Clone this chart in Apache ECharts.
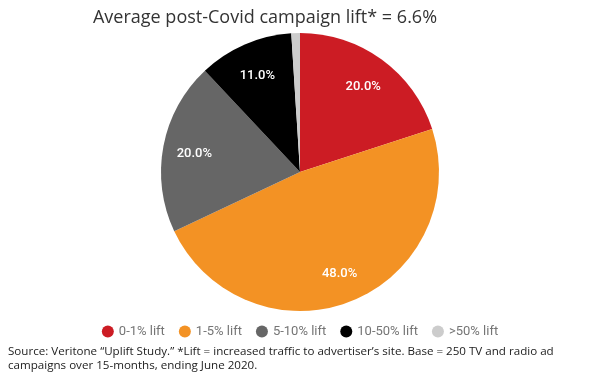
<!DOCTYPE html>
<html>
<head>
<meta charset="utf-8">
<script src="https://cdn.jsdelivr.net/npm/echarts@6/dist/echarts.min.js"></script>
<style>
  html, body { margin: 0; padding: 0; background: #fff; }
  #chart { width: 600px; height: 375px; }
</style>
</head>
<body>
<div id="chart"></div>
<script>
// lift buckets and share of campaigns (%)
const categories = ['0-1% lift', '1-5% lift', '5-10% lift', '10-50% lift', '>50% lift'];
const shares = [20, 48, 20, 11, 1];
const colors = ['#cc1c24', '#f39224', '#666666', '#000000', '#cccccc'];

const titleText = 'Average post-Covid campaign lift* = 6.6%';
const sourceText = 'Source: Veritone \u201cUplift Study.\u201d *Lift = increased traffic to advertiser\u2019s site. Base = 250 TV and radio ad\ncampaigns over 15-months, ending June 2020.';

const pieData = categories.map((name, i) => ({
  name: name,
  value: shares[i],
  itemStyle: { color: colors[i] }
}));

let myChart = echarts.init(document.getElementById('chart'));

myChart.setOption({
  animation: false,
  title: [{
    text: titleText,
    left: 260,
    textAlign: 'center',
    top: 4,
    textStyle: {
      fontFamily: 'Open Sans',
      fontSize: 18,
      fontWeight: 'normal',
      color: '#333'
    }
  }, {
    text: sourceText,
    left: 3,
    top: 340,
    textStyle: {
      fontFamily: 'Open Sans',
      fontSize: 11.6,
      fontWeight: 'normal',
      lineHeight: 14,
      color: '#222'
    }
  }],
  legend: {
    data: categories,
    left: 'center',
    top: 320,
    icon: 'circle',
    itemWidth: 12,
    itemHeight: 12,
    itemGap: 14,
    textStyle: {
      fontFamily: 'Roboto',
      fontSize: 13,
      color: '#757575'
    }
  },
  series: [{
    // the visible pie
    type: 'pie',
    center: [300, 172],
    radius: [0, 139],
    startAngle: 90,
    silent: true,
    label: { show: false },
    labelLine: { show: false },
    data: pieData
  }, {
    // transparent ring, only to place the percent labels further out
    type: 'pie',
    center: [300, 174],
    radius: [70, 139],
    startAngle: 90,
    silent: true,
    minShowLabelAngle: 5,
    itemStyle: { color: 'transparent' },
    label: {
      show: true,
      position: 'inside',
      fontFamily: 'Roboto',
      fontSize: 13,
      fontWeight: 500,
      color: '#fff',
      formatter: (p) => p.value.toFixed(1) + '%'
    },
    labelLine: { show: false },
    data: categories.map((name, i) => ({ name: name, value: shares[i] }))
  }]
});
</script>
</body>
</html>
